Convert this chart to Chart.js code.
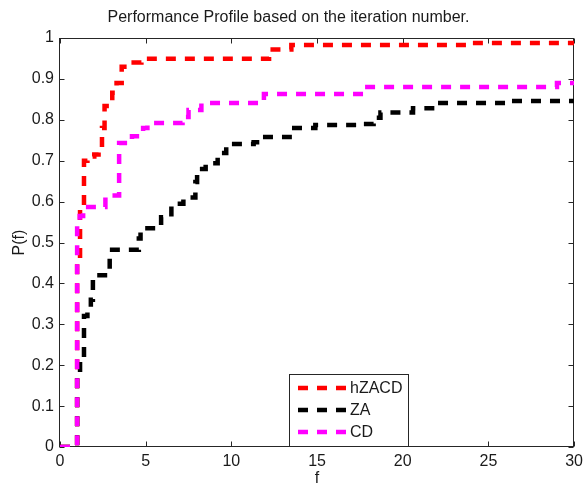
<!DOCTYPE html>
<html>
<head>
<meta charset="utf-8">
<script src="https://cdn.jsdelivr.net/npm/chart.js@4/dist/chart.umd.min.js"></script>
<style>
  html, body { margin: 0; padding: 0; background: #fff; }
</style>
</head>
<body>
<canvas id="profile" width="588" height="485"></canvas>
<script>
// Performance profile data
const seriesNames = ['hZACD', 'ZA', 'CD'];
const seriesColors = ['#ff0000', '#000000', '#ff00ff'];

const hzacdF = [0, 1.0, 1.17, 1.4, 1.6, 2.0, 2.25, 2.45, 2.6, 3.05, 3.3, 3.6, 4.3, 4.75, 12.2, 13.5, 23.9, 30];
const hzacdP = [0, 0.46, 0.59, 0.70, 0.71, 0.715, 0.725, 0.78, 0.834, 0.866, 0.89, 0.93, 0.94, 0.949, 0.972, 0.983, 0.988, 0.988];

const zaF = [0, 1.0, 1.17, 1.4, 1.6, 1.8, 1.92, 2.9, 4.6, 4.7, 5.9, 6.5, 7.2, 7.9, 8.0, 8.5, 9.2, 9.7, 11.3, 11.8, 13.4, 14.9, 17.4, 18.3, 18.7, 20.6, 21.9, 26.3, 30];
const zaP = [0, 0.18, 0.22, 0.32, 0.33, 0.36, 0.42, 0.482, 0.51, 0.535, 0.562, 0.595, 0.61, 0.648, 0.68, 0.694, 0.719, 0.741, 0.745, 0.758, 0.78, 0.787, 0.79, 0.805, 0.818, 0.828, 0.841, 0.846, 0.846];

const cdF = [0, 1.0, 1.15, 1.35, 2.65, 3.45, 4.2, 4.85, 5.1, 7.15, 7.5, 8.25, 11.9, 17.8, 29.0, 30];
const cdP = [0, 0.55, 0.565, 0.587, 0.615, 0.743, 0.76, 0.78, 0.792, 0.807, 0.824, 0.841, 0.863, 0.88, 0.89, 0.89];

const axisColor = '#262626';
const font = "'Liberation Sans', Arial, Helvetica, sans-serif";

function toPoints(xs, ys) {
    return xs.map((x, i) => ({ x: x, y: ys[i] }));
}

// axes box with inward tick marks, like the matlab original
const frame = {
    id: 'frame',
    beforeDatasetsDraw(chart) {
        const { ctx, chartArea: a, scales: { x, y } } = chart;
        const L = Math.round(a.left) - 0.5, R = Math.round(a.right) - 0.5;
        const T = Math.round(a.top) + 0.5, B = Math.round(a.bottom) - 0.5;
        ctx.save();
        ctx.strokeStyle = axisColor;
        ctx.lineWidth = 1;
        ctx.strokeRect(L, T, R - L, B - T);
        ctx.beginPath();
        y.ticks.forEach(t => {
            const py = Math.round(y.getPixelForValue(t.value)) + 0.5;
            ctx.moveTo(L, py); ctx.lineTo(L + 5, py);
            ctx.moveTo(R, py); ctx.lineTo(R - 5, py);
        });
        x.ticks.forEach(t => {
            const px = Math.round(x.getPixelForValue(t.value)) + 0.5;
            ctx.moveTo(px, B); ctx.lineTo(px, B - 5);
            ctx.moveTo(px, T); ctx.lineTo(px, T + 5);
        });
        ctx.stroke();
        ctx.restore();
    },
    afterDatasetsDraw(chart) {
        // legend box sitting on the bottom of the axes
        const { ctx, chartArea: a } = chart;
        const left = 289.5, top = 374.5, w = 119, h = Math.round(a.bottom) - 0.5 - top;
        ctx.save();
        ctx.fillStyle = '#fff';
        ctx.fillRect(left, top, w, h);
        ctx.strokeStyle = axisColor;
        ctx.lineWidth = 1;
        ctx.strokeRect(left, top, w, h);
        const rows = [388, 410, 432];
        chart.data.datasets.forEach((ds, i) => {
            ctx.beginPath();
            ctx.strokeStyle = ds.borderColor;
            ctx.lineWidth = ds.borderWidth;
            ctx.setLineDash(ds.borderDash);
            ctx.lineCap = 'butt';
            ctx.moveTo(298, rows[i]);
            ctx.lineTo(347, rows[i]);
            ctx.stroke();
            ctx.setLineDash([]);
            ctx.fillStyle = '#1a1a1a';
            ctx.font = '16px ' + font;
            ctx.textAlign = 'left';
            ctx.textBaseline = 'middle';
            ctx.fillText(ds.label, 350, rows[i] + 1);
        });
        ctx.restore();
    }
};

const datasets = [
    { F: hzacdF, P: hzacdP, order: 3 },
    { F: zaF, P: zaP, order: 2 },
    { F: cdF, P: cdP, order: 1 }
].map((s, i) => ({
    label: seriesNames[i],
    data: toPoints(s.F, s.P),
    borderColor: seriesColors[i],
    backgroundColor: seriesColors[i],
    borderWidth: 4.5,
    borderDash: [10, 9],
    borderCapStyle: 'butt',
    borderJoinStyle: 'miter',
    stepped: 'before',
    pointRadius: 0,
    fill: false,
    order: s.order
}));

const ctx = document.getElementById('profile').getContext('2d');
new Chart(ctx, {
    type: 'line',
    data: { datasets: datasets },
    options: {
        responsive: false,
        animation: false,
        layout: { padding: { left: 0, right: 11, top: 0, bottom: 0 } },
        plugins: {
            legend: { display: false },
            tooltip: { enabled: false },
            title: {
                display: true,
                text: 'Performance Profile based on the iteration number.',
                color: '#1a1a1a',
                font: { family: font, size: 16, weight: 'normal', lineHeight: 1.2 },
                padding: { top: 8, bottom: 10.8 }
            }
        },
        scales: {
            x: {
                type: 'linear',
                min: 0, max: 30,
                grid: { display: false, drawTicks: false },
                border: { display: false },
                ticks: { stepSize: 5, padding: 5, color: '#1a1a1a', font: { family: font, size: 16 }, maxRotation: 0 },
                title: { display: true, text: 'f', color: '#1a1a1a', font: { family: font, size: 16, lineHeight: 0.8 }, padding: 0 },
                afterFit(scale) { scale.height = 38; }
            },
            y: {
                type: 'linear',
                min: 0, max: 1,
                grid: { display: false, drawTicks: false },
                border: { display: false },
                ticks: {
                    stepSize: 0.1, padding: 6, color: '#1a1a1a', font: { family: font, size: 16 },
                    callback: v => String(Number(v.toFixed(1)))
                },
                title: { display: true, text: 'P(f)', color: '#1a1a1a', font: { family: font, size: 16, lineHeight: 1 }, padding: { top: 12, bottom: 0 } },
                afterFit(scale) { scale.width = 60; }
            }
        }
    },
    plugins: [frame]
});
</script>
</body>
</html>
